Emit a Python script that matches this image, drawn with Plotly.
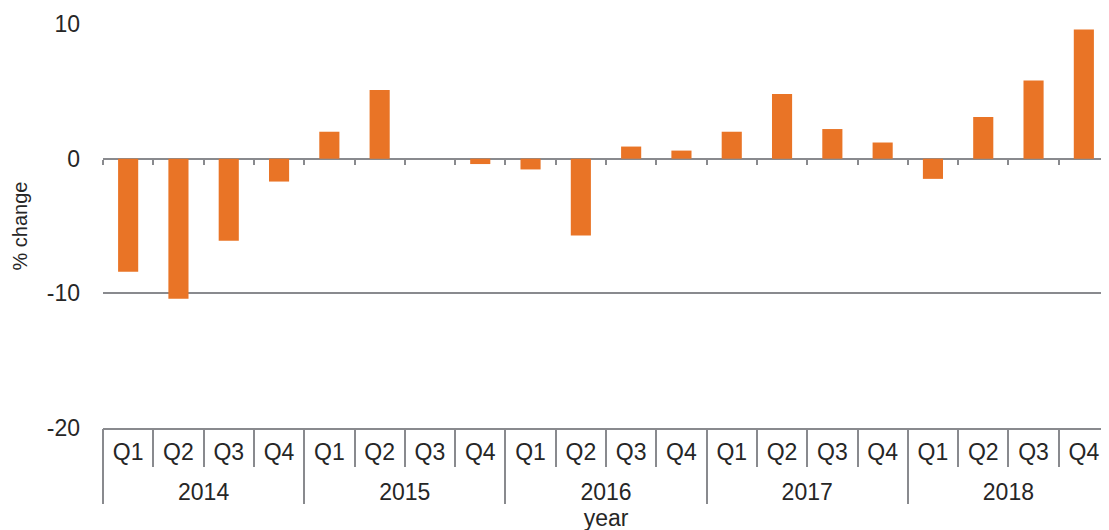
import plotly.graph_objects as go

years = ["2014"] * 4 + ["2015"] * 4 + ["2016"] * 4 + ["2017"] * 4 + ["2018"] * 4
quarters = ["Q1", "Q2", "Q3", "Q4"] * 5
pct_change = [-8.4, -10.4, -6.1, -1.7,
              2.0, 5.1, 0.0, -0.4,
              -0.8, -5.7, 0.9, 0.6,
              2.0, 4.8, 2.2, 1.2,
              -1.5, 3.1, 5.8, 9.6]
year_groups = ["2014", "2015", "2016", "2017", "2018"]

y_ticks = [-20, -10, 0, 10]
y_tick_labels = ["-20", "-10", "0", "10"]

periods = [f"{y} {q}" for y, q in zip(years, quarters)]

BAR = "#E97426"
GRID = "#898A8E"
TXT = "#262626"
FONT = "Liberation Sans, Arial, sans-serif"

fig = go.Figure()
fig.add_trace(go.Bar(x=periods, y=pct_change, marker=dict(color=BAR, line=dict(width=0)),
                     showlegend=False, hovertemplate="%{x}: %{y}<extra></extra>"))
# helper trace: year grouping row
fig.add_trace(go.Bar(x=year_groups, y=[None] * len(year_groups), xaxis="x2",
                     showlegend=False, hoverinfo="skip"))
# helper trace: small ticks along the zero line
fig.add_trace(go.Bar(x=periods, y=[None] * len(periods), xaxis="x3",
                     showlegend=False, hoverinfo="skip"))

fig.update_layout(
    width=1109, height=530,
    margin=dict(l=95, r=8, t=16, b=110, autoexpand=False),
    paper_bgcolor="white", plot_bgcolor="white",
    bargap=0.6,
    font=dict(family=FONT, size=23, color=TXT),
    xaxis=dict(
        type="category", automargin=False,
        tickvals=periods, ticktext=quarters,
        showline=True, linecolor=GRID, linewidth=2,
        ticks="outside", ticklen=37, tickwidth=2, tickcolor=GRID,
        tickson="boundaries", ticklabelstandoff=2,
        tickfont=dict(size=23, color=TXT),
        showgrid=False,
    ),
    xaxis2=dict(
        type="category", overlaying="x", anchor="y", side="bottom", automargin=False,
        tickvals=year_groups, ticktext=year_groups,
        showline=False, ticks="outside", ticklen=75, tickwidth=2, tickcolor=GRID,
        tickson="boundaries", ticklabelstandoff=48,
        tickfont=dict(size=23, color=TXT), showgrid=False,
        title=dict(text="year", font=dict(size=23, color=TXT), standoff=2),
    ),
    xaxis3=dict(
        type="category", overlaying="x", anchor="free", position=2 / 3,
        matches="x", automargin=False,
        showline=False, ticks="outside", ticklen=5, tickwidth=2, tickcolor=GRID,
        tickson="boundaries", showticklabels=False, showgrid=False,
    ),
    yaxis=dict(
        range=[-20, 10], tickvals=y_ticks, ticktext=y_tick_labels, automargin=False,
        showgrid=True, gridcolor=GRID, gridwidth=2,
        zeroline=True, zerolinecolor=GRID, zerolinewidth=2,
        showline=False, ticks="", ticklabelstandoff=22,
        tickfont=dict(size=23, color=TXT),
        title=dict(text="% change", font=dict(size=20, color=TXT), standoff=13),
    ),
)

fig.write_html("out.html")
